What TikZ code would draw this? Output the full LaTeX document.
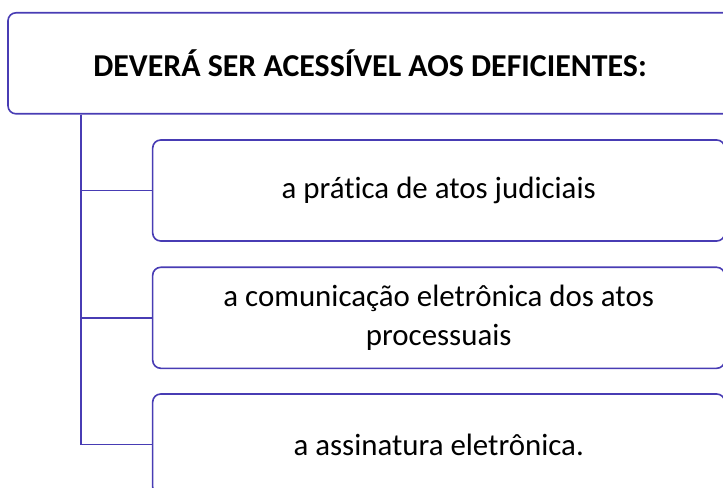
\documentclass[tikz,border=0pt]{standalone}
\usepackage{fontspec}
\setmainfont{Carlito}[Ligatures=NoCommon]
\usetikzlibrary{positioning,calc}
\definecolor{smartblue}{RGB}{72,60,180}

\begin{document}
\begin{tikzpicture}[x=1bp,y=-1bp,
    box/.style={draw=smartblue,line width=1.6bp,rounded corners=8bp,fill=white,align=center,inner sep=0pt},
    link/.style={draw=smartblue,line width=1.6bp}]
    \useasboundingbox (0,0) rectangle (723,488);
    \clip (0,0) rectangle (723,488);

    % Title
    \node[box,minimum width=724bp,minimum height=101bp,font=\fontsize{32}{39}\selectfont\bfseries] (title) at (370,63.3) {DEVERÁ SER ACESSÍVEL AOS DEFICIENTES:};

    % Items
    \node[box,minimum width=572bp,minimum height=101bp,font=\fontsize{31}{39}\selectfont] (pratica) at (438.7,190.5) {a prática de atos judiciais};
    \node[box,minimum width=572bp,minimum height=101bp,font=\fontsize{31}{39}\selectfont] (comunicacao) at (438.7,317.8) {a comunicação eletrônica dos atos\\processuais};
    \node[box,minimum width=572bp,minimum height=101bp,font=\fontsize{31}{39}\selectfont] (assinatura) at (438.7,444.5) {a assinatura eletrônica.};

    % Tree lines
    \coordinate (trunk) at (80.7,0);
    \draw[link] (title.south -| trunk) |- (pratica.west);
    \draw[link] (title.south -| trunk) |- (comunicacao.west);
    \draw[link] (title.south -| trunk) |- (assinatura.west);
\end{tikzpicture}
\end{document}
